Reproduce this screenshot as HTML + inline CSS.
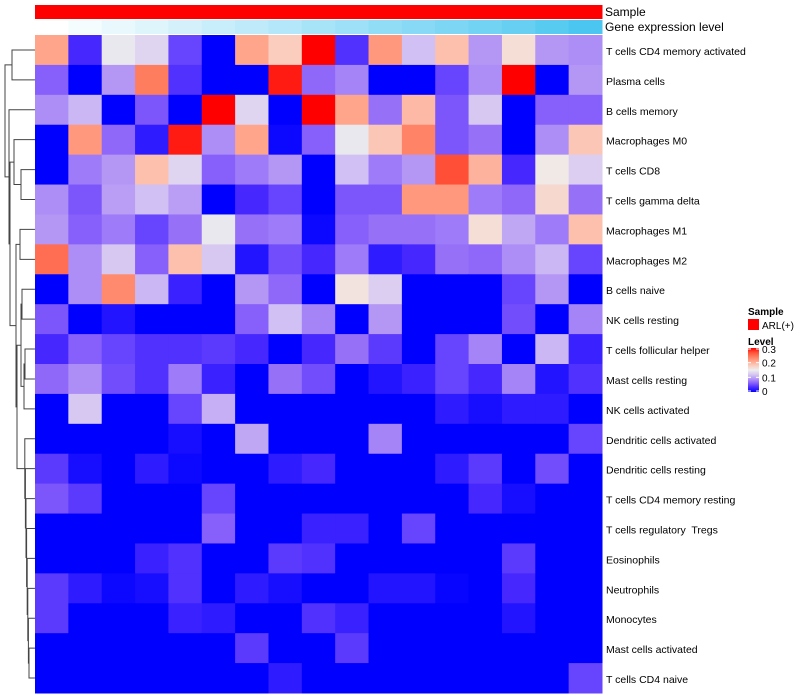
<!DOCTYPE html>
<html><head><meta charset="utf-8"><style>
body{margin:0;background:#fff;font-family:"Liberation Sans",sans-serif;}
svg{display:block}
text{white-space:pre}
</style></head><body>
<svg id="chart" width="800" height="700" xmlns="http://www.w3.org/2000/svg"></svg>
<script>
const rowNames=["T cells CD4 memory activated","Plasma cells","B cells memory","Macrophages M0","T cells CD8","T cells gamma delta","Macrophages M1","Macrophages M2","B cells naive","NK cells resting","T cells follicular helper","Mast cells resting","NK cells activated","Dendritic cells activated","Dendritic cells resting","T cells CD4 memory resting","T cells regulatory  Tregs","Eosinophils","Neutrophils","Monocytes","Mast cells activated","T cells CD4 naive"];
const values=[
[0.21,0.03,0.145,0.13,0.045,0,0.21,0.18,0.3,0.035,0.22,0.115,0.19,0.09,0.165,0.09,0.085],
[0.06,0,0.09,0.24,0.035,0,0,0.29,0.065,0.08,0,0,0.045,0.085,0.3,0,0.09],
[0.085,0.11,0,0.055,0,0.3,0.13,0,0.3,0.21,0.07,0.195,0.055,0.12,0,0.06,0.06],
[0,0.22,0.065,0.02,0.29,0.085,0.21,0.005,0.06,0.145,0.185,0.235,0.055,0.07,0,0.085,0.185],
[0,0.075,0.09,0.19,0.13,0.06,0.075,0.09,0,0.115,0.075,0.09,0.27,0.2,0.03,0.155,0.125],
[0.085,0.055,0.095,0.115,0.095,0,0.03,0.045,0,0.055,0.055,0.22,0.22,0.075,0.065,0.17,0.07],
[0.09,0.06,0.075,0.045,0.07,0.145,0.07,0.075,0.005,0.06,0.07,0.07,0.075,0.165,0.1,0.075,0.19],
[0.25,0.085,0.12,0.06,0.19,0.12,0.015,0.05,0.03,0.075,0.02,0.03,0.07,0.065,0.085,0.11,0.045],
[0,0.085,0.23,0.11,0.025,0,0.09,0.065,0,0.16,0.125,0,0,0,0.045,0.09,0],
[0.055,0,0.015,0,0,0,0.06,0.115,0.08,0,0.09,0,0,0,0.05,0,0.08],
[0.03,0.06,0.045,0.035,0.035,0.04,0.03,0,0.03,0.07,0.04,0,0.045,0.08,0,0.11,0.025],
[0.065,0.085,0.05,0.035,0.075,0.025,0,0.07,0.05,0,0.015,0.025,0.045,0.03,0.08,0.015,0.035],
[0,0.12,0,0,0.045,0.105,0,0,0,0,0,0,0.02,0.01,0.02,0.02,0],
[0,0,0,0,0.01,0,0.1,0,0,0,0.08,0,0,0,0,0,0.045],
[0.04,0.01,0,0.02,0.005,0,0,0.02,0.03,0,0,0,0.02,0.04,0,0.05,0],
[0.055,0.04,0,0,0,0.045,0,0,0,0,0,0,0,0.03,0.01,0,0],
[0,0,0,0,0,0.06,0,0,0.025,0.025,0,0.045,0,0,0,0,0],
[0,0,0,0.025,0.035,0,0,0.04,0.035,0,0,0,0,0,0.04,0,0],
[0.04,0.02,0.005,0.01,0.035,0,0.02,0.01,0,0,0.015,0.015,0.003,0,0.03,0,0],
[0.04,0,0,0,0.025,0.02,0,0,0.035,0.025,0,0,0,0,0.015,0,0],
[0,0,0,0,0,0,0.04,0,0,0.04,0,0,0,0,0,0,0],
[0,0,0,0,0,0,0,0.02,0,0,0,0,0,0,0,0,0.045]];
const geneLevel=[0,0.06,0.12,0.18,0.24,0.3,0.36,0.42,0.48,0.54,0.6,0.66,0.72,0.78,0.84,0.92,1];
const legendTicks=[0,0.1,0.2,0.3];

const NS="http://www.w3.org/2000/svg",svg=document.getElementById('chart');
function el(t,a,p){const e=document.createElementNS(NS,t);for(const k in a)e.setAttribute(k,a[k]);(p||svg).appendChild(e);return e;}
const X0=35,X1=602,Y0=35,Y1=693,nC=values[0].length,nR=values.length;
const cw=(X1-X0)/nC,rh=(Y1-Y0)/nR;
const xPos=j=>X0+j*cw, yPos=i=>Y0+i*rh;
const stops=[[0,0,0,255],[0.03,70,40,255],[0.06,135,95,250],[0.09,180,150,245],[0.12,215,200,242],[0.15,238,238,238],[0.18,250,205,190],[0.21,255,165,140],[0.24,255,125,95],[0.27,255,80,55],[0.3,255,0,0]];
function col(v){v=Math.max(0,Math.min(0.3,v));for(let k=1;k<stops.length;k++){if(v<=stops[k][0]){const a=stops[k-1],b=stops[k],t=(v-a[0])/(b[0]-a[0]);return `rgb(${[1,2,3].map(c=>Math.round(a[c]+(b[c]-a[c])*t)).join(',')})`;}}return 'rgb(255,0,0)';}
function gcol(t){return `rgb(${Math.round(255+(74-255)*t)},${Math.round(255+(198-255)*t)},${Math.round(255+(240-255)*t)})`;}
// annotations
for(let j=0;j<nC;j++){
 const s=el('rect',{x:xPos(j),y:5,width:cw+0.5,height:14,fill:'#ff0000'});
 
 
 const g=el('rect',{x:xPos(j),y:20,width:cw+0.5,height:14,fill:gcol(geneLevel[j])});
 
 
}
let t=el('text',{x:605,y:16,'font-size':12,fill:'#000'});t.textContent='Sample';


t=el('text',{x:605,y:31,'font-size':12,fill:'#000'});t.textContent='Gene expression level';


// cells
for(let i=0;i<nR;i++){for(let j=0;j<nC;j++){
 const r=el('rect',{x:xPos(j),y:yPos(i),width:cw+0.5,height:rh+0.5,fill:col(values[i][j])});
 
 
}
 const l=el('text',{x:606,y:yPos(i)+rh/2+5,'font-size':10.5,fill:'#000'});l.textContent=rowNames[i];
 
 
}
// dendrogram (approximate)
const cy=i=>yPos(i)+rh/2;
const dg=el('g',{stroke:'#444','stroke-width':1,fill:'none'});


function link(ya,xa,yb,xb,xm){el('path',{d:`M${xa},${ya}H${xm}V${yb}H${xb}`},dg);}
link(cy(0),X0,cy(1),X0,12); const nA=(cy(0)+cy(1))/2;
link(cy(4),X0,cy(5),X0,21); const n45=(cy(4)+cy(5))/2;
link(cy(3),X0,n45,21,14); const n345=(cy(3)+n45)/2;
link(cy(6),X0,cy(7),X0,20); const n67=(cy(6)+cy(7))/2;
link(cy(8),X0,cy(9),X0,22); const n89=(cy(8)+cy(9))/2;
link(cy(10),X0,cy(11),X0,25); const n1011=(cy(10)+cy(11))/2;
link(n1011,25,cy(12),X0,24); const nB1=(n1011+cy(12))/2;
link(n89,22,nB1,24,21); const nB2=(n89+nB1)/2;
let prev=cy(21),px=X0;
for(let i=20;i>=13;i--){const xm=29-(20-i)*0.6;link(cy(i),X0,prev,px,xm);prev=(cy(i)+prev)/2;px=xm;}
link(nB2,21,prev,px,17); const nC2=(nB2+prev)/2;
link(n67,20,nC2,17,16); const nD=(n67+nC2)/2;
link(n345,14,nD,16,10); const nE=(n345+nD)/2;
link(cy(2),X0,nE,10,9); const nF=(cy(2)+nE)/2;
link(nA,12,nF,9,5);
// legend
t=el('text',{x:748,y:315,'font-size':10,'font-weight':'bold',fill:'#000'});t.textContent='Sample';


let r=el('rect',{x:748,y:319,width:11,height:11,fill:'#ff0000'});


t=el('text',{x:762,y:329,'font-size':10,fill:'#000'});t.textContent='ARL(+)';


t=el('text',{x:748,y:345,'font-size':10,'font-weight':'bold',fill:'#000'});t.textContent='Level';


const defs=el('defs',{});const lg=el('linearGradient',{id:'lg',x1:0,y1:1,x2:0,y2:0},defs);
stops.forEach(s=>el('stop',{offset:s[0]/0.3,'stop-color':`rgb(${s[1]},${s[2]},${s[3]})`},lg));
const LT=348,LB=392;
r=el('rect',{x:748,y:LT,width:11,height:LB-LT,fill:'url(#lg)'});


const ly=v=>LB-(v/0.3)*(LB-LT)+ (v===0?-1:v===0.3?1:0);
legendTicks.forEach(v=>{
 el('line',{x1:748,x2:751,y1:ly(v),y2:ly(v),stroke:'#fff'});
 el('line',{x1:756,x2:759,y1:ly(v),y2:ly(v),stroke:'#fff'});
 const tt=el('text',{x:762,y:ly(v)+4,'font-size':10,fill:'#000'});tt.textContent=String(v);
 
 
});
</script>
</body></html>
